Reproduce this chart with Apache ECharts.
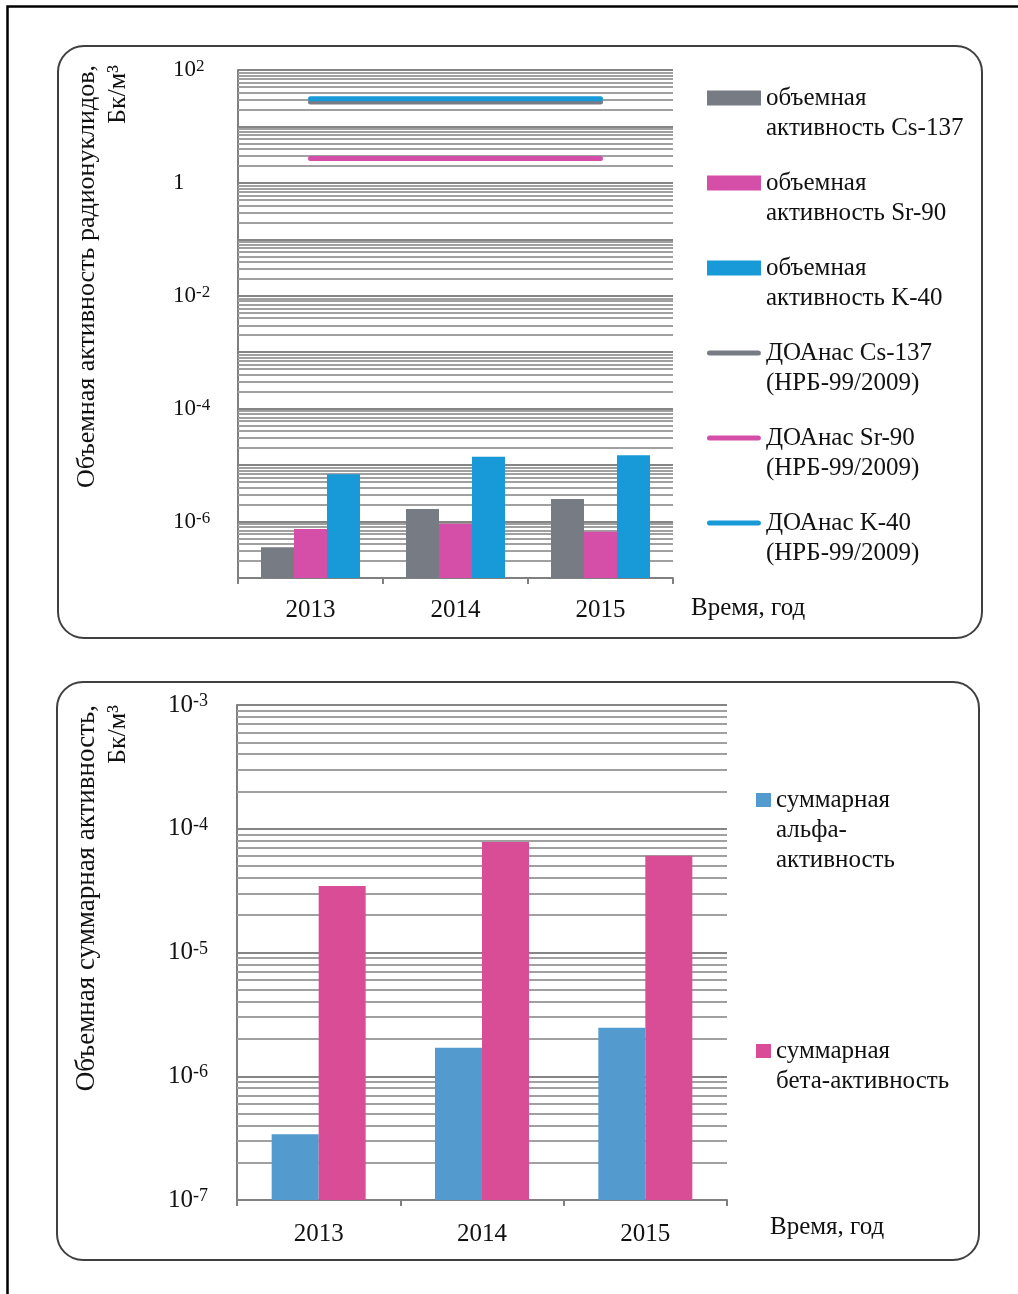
<!DOCTYPE html>
<html><head><meta charset="utf-8">
<script src="https://cdn.jsdelivr.net/npm/echarts@6/dist/echarts.min.js"></script>
<style>html,body{margin:0;padding:0;background:#fff}#c{width:1018px;height:1294px}</style>
</head><body><div id="c"></div>
<script>
// ---------- data ----------
const years = ['2013', '2014', '2015'];
const cs137 = [3.5e-7, 1.67e-6, 2.5e-6];
const sr90 = [7.4e-7, 9.1e-7, 6.6e-7];
const k40 = [6.9e-6, 1.4e-5, 1.5e-5];
const doaCs137 = [27, 27, 27];
const doaSr90 = [2.7, 2.7, 2.7];
const doaK40 = [31, 31, 31];
const alphaSum = [3.4e-7, 1.7e-6, 2.47e-6];
const betaSum = [3.45e-5, 7.8e-5, 6.05e-5];
const topAxisMin = 1e-7, topAxisMax = 100;
const botAxisMin = 1e-7, botAxisMax = 1e-3;
const minorMultipliers = [2, 3, 4, 5, 6, 7, 8, 9];

// ---------- helpers ----------
const SERIF = "'Liberation Serif', 'Times New Roman', serif";
const TXT = '#111';
function minorGrid(minV, maxV) {
  const out = [];
  const e0 = Math.round(Math.log10(minV)), e1 = Math.round(Math.log10(maxV));
  for (let e = e0; e < e1; e++) minorMultipliers.forEach(m => out.push({ yAxis: m * Math.pow(10, e) }));
  return out;
}
function minorMarkLine(minV, maxV) {
  return {
    silent: true, symbol: ['none', 'none'], z: 1, animation: false, precision: 20,
    label: { show: false }, emphasis: { disabled: true },
    lineStyle: { color: '#a0a0a0', width: 1.8, type: 'solid' },
    data: minorGrid(minV, maxV)
  };
}
function expOf(v) { return Math.round(Math.log10(v)); }
const legendText = {
  'объемная активность Cs-137': 'объемная\nактивность Cs-137',
  'объемная активность Sr-90': 'объемная\nактивность Sr-90',
  'объемная активность K-40': 'объемная\nактивность K-40',
  'ДОАнас Cs-137 (НРБ-99/2009)': 'ДОАнас Cs-137\n(НРБ-99/2009)',
  'ДОАнас Sr-90 (НРБ-99/2009)': 'ДОАнас Sr-90\n(НРБ-99/2009)',
  'ДОАнас K-40 (НРБ-99/2009)': 'ДОАнас K-40\n(НРБ-99/2009)',
  'суммарная альфа-активность': 'суммарная\nальфа-\nактивность',
  'суммарная бета-активность': 'суммарная\nбета-активность'
};
// icon shapes: the visible mark sits at the top of a taller item box so it lines up with the first text line
const BAR_ICON = 'path://M0,0h54v15h-54z M0,45h0.01v0.01h-0.01z';
const LINE_ICON = 'path://M2.5,5h49a2.5,2.5,0,0,1,0,5h-49a2.5,2.5,0,0,1,0,-5z M0,0h0.01v0.01h-0.01z M0,45h0.01v0.01h-0.01z';
const SQ3_ICON = 'path://M0,0h15v14h-15z M0,74h0.01v0.01h-0.01z';
const SQ2_ICON = 'path://M0,0h15v14h-15z M0,44h0.01v0.01h-0.01z';
function legendItem(name, left, top, w, h, icon) {
  return {
    show: true, orient: 'vertical', left: left, top: top, padding: 0,
    itemWidth: w, itemHeight: h, selectedMode: false,
    itemStyle: { borderWidth: 0 },
    data: [{ name: name, icon: icon }],
    formatter: n => legendText[n] || n,
    textStyle: { fontFamily: SERIF, fontSize: 25, color: TXT, lineHeight: 30 }
  };
}

const COL = { gray: '#777b84', pink: '#d54ea8', blue: '#1899d8', blue2: '#539bcf', pink2: '#d94d96' };

const option = {
  animation: false,
  backgroundColor: '#fff',
  grid: [
    { left: 238, top: 70, width: 435, height: 508, outerBoundsMode: 'none', containLabel: false },
    { left: 237, top: 705, width: 490, height: 495, outerBoundsMode: 'none', containLabel: false }
  ],
  xAxis: [
    {
      gridIndex: 0, type: 'category', data: years,
      axisLine: { lineStyle: { color: '#808080', width: 2 } },
      axisTick: { show: true, length: 6, lineStyle: { color: '#808080', width: 2 } },
      axisLabel: { fontFamily: SERIF, fontSize: 25, color: TXT, margin: 20 },
      name: 'Время, год', nameLocation: 'end', nameGap: 18,
      nameTextStyle: { fontFamily: SERIF, fontSize: 25, color: TXT, align: 'left', verticalAlign: 'top', padding: [18, 0, 0, 0] }
    },
    {
      gridIndex: 1, type: 'category', data: years,
      axisLine: { lineStyle: { color: '#808080', width: 2 } },
      axisTick: { show: true, length: 6, lineStyle: { color: '#808080', width: 2 } },
      axisLabel: { fontFamily: SERIF, fontSize: 25, color: TXT, margin: 22 },
      name: 'Время, год', nameLocation: 'end', nameGap: 43,
      nameTextStyle: { fontFamily: SERIF, fontSize: 25, color: TXT, align: 'left', verticalAlign: 'top', padding: [15, 0, 0, 0] }
    }
  ],
  yAxis: [
    {
      gridIndex: 0, type: 'log', logBase: 10, min: topAxisMin, max: topAxisMax, interval: 1, splitNumber: 9, startValue: topAxisMin,
      axisLine: { show: true, lineStyle: { color: '#808080', width: 2 } },
      axisTick: { show: false },
      splitLine: { show: true, lineStyle: { color: '#858585', width: 2 } },
      axisLabel: {
        align: 'left', margin: 65,
        formatter: v => { const e = expOf(v); if (e % 2 !== 0) return ''; if (e === 0) return '{b|1}'; return '{b|10}{s|' + e + '}'; },
        rich: { b: { fontFamily: SERIF, fontSize: 23, color: TXT }, s: { fontFamily: SERIF, fontSize: 17, color: TXT, verticalAlign: 'top' } }
      }
    },
    {
      gridIndex: 1, type: 'log', logBase: 10, min: botAxisMin, max: botAxisMax, interval: 1, splitNumber: 4, startValue: botAxisMin,
      axisLine: { show: true, lineStyle: { color: '#808080', width: 2 } },
      axisTick: { show: false },
      splitLine: { show: true, lineStyle: { color: '#858585', width: 2 } },
      axisLabel: {
        align: 'left', margin: 69,
        formatter: v => '{b|10}{s|' + expOf(v) + '}',
        rich: { b: { fontFamily: SERIF, fontSize: 25, color: TXT }, s: { fontFamily: SERIF, fontSize: 18, color: TXT, verticalAlign: 'top' } }
      }
    }
  ],
  legend: [
    legendItem('объемная активность Cs-137', 707, 83, 54, 45, BAR_ICON),
    legendItem('объемная активность Sr-90', 707, 168, 54, 45, BAR_ICON),
    legendItem('объемная активность K-40', 707, 253, 54, 45, BAR_ICON),
    legendItem('ДОАнас Cs-137 (НРБ-99/2009)', 707, 338, 54, 45, LINE_ICON),
    legendItem('ДОАнас Sr-90 (НРБ-99/2009)', 707, 423, 54, 45, LINE_ICON),
    legendItem('ДОАнас K-40 (НРБ-99/2009)', 707, 508, 54, 45, LINE_ICON),
    legendItem('суммарная альфа-активность', 756, 785, 15, 74, SQ3_ICON),
    legendItem('суммарная бета-активность', 756, 1036, 15, 44, SQ2_ICON)
  ],
  series: [
    { name: 'объемная активность Cs-137', type: 'bar', xAxisIndex: 0, yAxisIndex: 0, data: cs137, barWidth: 33, barGap: '0%', itemStyle: { color: COL.gray }, markLine: minorMarkLine(topAxisMin, topAxisMax) },
    { name: 'объемная активность Sr-90', type: 'bar', xAxisIndex: 0, yAxisIndex: 0, data: sr90, barWidth: 33, barGap: '0%', itemStyle: { color: COL.pink } },
    { name: 'объемная активность K-40', type: 'bar', xAxisIndex: 0, yAxisIndex: 0, data: k40, barWidth: 33, barGap: '0%', itemStyle: { color: COL.blue } },
    { name: 'ДОАнас Cs-137 (НРБ-99/2009)', type: 'line', xAxisIndex: 0, yAxisIndex: 0, data: doaCs137, symbol: 'none', z: 3, itemStyle: { color: COL.gray }, lineStyle: { color: COL.gray, width: 5, cap: 'round' } },
    { name: 'ДОАнас Sr-90 (НРБ-99/2009)', type: 'line', xAxisIndex: 0, yAxisIndex: 0, data: doaSr90, symbol: 'none', z: 3, itemStyle: { color: COL.pink }, lineStyle: { color: COL.pink, width: 5, cap: 'round' } },
    { name: 'ДОАнас K-40 (НРБ-99/2009)', type: 'line', xAxisIndex: 0, yAxisIndex: 0, data: doaK40, symbol: 'none', z: 3, itemStyle: { color: COL.blue }, lineStyle: { color: COL.blue, width: 5, cap: 'round' } },
    { name: 'суммарная альфа-активность', type: 'bar', xAxisIndex: 1, yAxisIndex: 1, data: alphaSum, barWidth: 47, barGap: '0%', itemStyle: { color: COL.blue2 }, markLine: minorMarkLine(botAxisMin, botAxisMax) },
    { name: 'суммарная бета-активность', type: 'bar', xAxisIndex: 1, yAxisIndex: 1, data: betaSum, barWidth: 47, barGap: '0%', itemStyle: { color: COL.pink2 } }
  ],
  graphic: [
    { type: 'polyline', shape: { points: [[1018, 6.5], [7.5, 6.5], [7.5, 1294]] }, style: { fill: 'none', stroke: '#000', lineWidth: 2.5 }, silent: true },
    { type: 'rect', shape: { x: 58, y: 46, width: 924, height: 592, r: 26 }, style: { fill: 'none', stroke: '#404040', lineWidth: 2 }, silent: true },
    { type: 'rect', shape: { x: 57, y: 682, width: 922, height: 578, r: 26 }, style: { fill: 'none', stroke: '#404040', lineWidth: 2 }, silent: true },
    { type: 'text', x: 87, y: 65, rotation: Math.PI / 2, silent: true, style: { text: 'Объемная активность радионуклидов,', fontFamily: SERIF, fontSize: 26, fill: TXT, align: 'right', verticalAlign: 'middle' } },
    { type: 'text', x: 118, y: 65, rotation: Math.PI / 2, silent: true, style: { text: 'Бк/м³', fontFamily: SERIF, fontSize: 26, fill: TXT, align: 'right', verticalAlign: 'middle' } },
    { type: 'text', x: 87, y: 705, rotation: Math.PI / 2, silent: true, style: { text: 'Объемная суммарная активность,', fontFamily: SERIF, fontSize: 27, fill: TXT, align: 'right', verticalAlign: 'middle' } },
    { type: 'text', x: 118, y: 705, rotation: Math.PI / 2, silent: true, style: { text: 'Бк/м³', fontFamily: SERIF, fontSize: 26, fill: TXT, align: 'right', verticalAlign: 'middle' } }
  ]
};
const chart = echarts.init(document.getElementById('c'), null, { renderer: 'canvas' });
chart.setOption(option);
</script>
</body></html>
